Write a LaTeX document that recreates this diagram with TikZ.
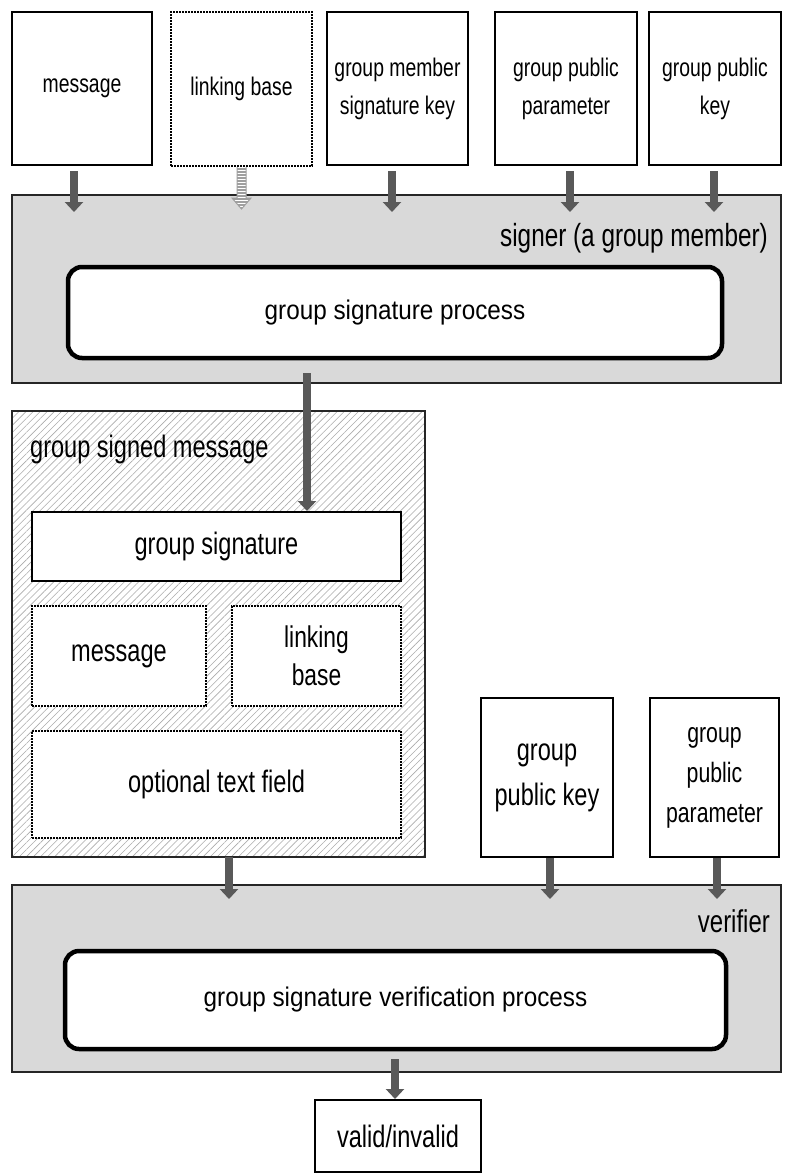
\documentclass[tikz,border=0pt]{standalone}
\usepackage{fontspec}
\setmainfont{Liberation Sans}[FakeStretch=0.76]
\newfontfamily\procfont{Liberation Sans}[FakeStretch=0.9]
\usetikzlibrary{arrows.meta,patterns.meta,calc}
\definecolor{panelgray}{HTML}{D9D9D9}
\definecolor{arrowgray}{HTML}{595959}
\tikzset{
  box/.style={draw=black, line width=2pt, fill=white, inner sep=2pt, align=center},
  dotbox/.style={box, dash pattern=on 1.6pt off 1.4pt},
  small/.style={font=\fontsize{25.5}{38}\selectfont},
  big/.style={font=\fontsize{31}{42}\selectfont},
  procfnt/.style={font=\procfont\fontsize{27}{32}\selectfont},
  label/.style={big, inner sep=0pt},
  panel/.style={draw=black!85, line width=2pt, fill=panelgray},
  hatchpanel/.style={draw=black!85, line width=2pt, preaction={fill=white},
    pattern={Lines[angle=45,distance=5pt,line width=0.6pt]}, pattern color=gray!65},
  proc/.style={draw=black, line width=4.5pt, fill=white, rounded corners=14pt, align=center, procfnt},
  arr/.style={draw=arrowgray, line width=8pt, -{Triangle[width=18pt,length=10pt]}},
}
\begin{document}
\begin{tikzpicture}[x=1pt,y=-1pt]
\useasboundingbox (0,0) rectangle (793,1173);

% inputs of the signer
\node[box,small,minimum width=140,minimum height=153] (msg) at (82,88.5) {message};
\node[dotbox,small,minimum width=141,minimum height=154] (lb) at (241.5,89) {linking base};
\node[box,small,minimum width=141,minimum height=153] (gmsk) at (397.5,88.5) {group member\\signature key};
\node[box,small,minimum width=142,minimum height=153] (gpp) at (566,88.5) {group public\\parameter};
\node[box,small,minimum width=132,minimum height=153] (gpk) at (715,88.5) {group public\\key};

% signer
\node[panel, minimum width=769, minimum height=188] (signer) at (396.5,289) {};
\node[label, anchor=east, font=\fontsize{32}{38}\selectfont] (signerlbl) at (768,238) {signer (a group member)};
\node[proc, minimum width=654, minimum height=91] (sp) at (395,312.5) {group signature process};

% group signed message
\node[hatchpanel, minimum width=413, minimum height=446] (gsm) at (218.5,634) {};
\node[label, anchor=west] (gsmlbl) at (30,449) {group signed message};
\node[box, big, minimum width=369, minimum height=69] (gs) at (216.5,546.5) {group signature};
\node[dotbox, big, minimum width=174, minimum height=100] (msg2) at (119,656) {message};
\node[dotbox, big, minimum width=169, minimum height=100, font=\fontsize{30}{38}\selectfont] (lb2) at (316.5,656) {linking\\base};
\node[dotbox, big, minimum width=369, minimum height=107] (otf) at (216.5,784.5) {optional text field};

% inputs of the verifier
\node[box, big, minimum width=132, minimum height=159, font=\fontsize{31}{45}\selectfont] (gpk2) at (547,777.5) {group\\public key};
\node[box, big, minimum width=129, minimum height=159, font=\fontsize{28}{40}\selectfont] (gpp2) at (714.5,777.5) {group\\public\\parameter};

% verifier
\node[panel, minimum width=769, minimum height=187] (verifier) at (396.5,978.5) {};
\node[label, anchor=east, font=\fontsize{31.5}{38}\selectfont] (verlbl) at (770,921) {verifier};
\node[proc, minimum width=661, minimum height=98] (vp) at (395.5,1000) {group signature verification process};

% result
\node[box, big, minimum width=166, minimum height=72] (valid) at (398,1136) {valid/invalid};

% arrows into the signer
\coordinate (a1) at ([xshift=-8pt]msg.south);
\coordinate (a3) at ([xshift=-5.5pt]gmsk.south);
\coordinate (a4) at ([xshift=4pt]gpp.south);
\coordinate (a5) at ([xshift=-1pt]gpk.south);
\foreach \c in {a1,a3,a4,a5}
  \draw[arr, shorten <=5pt, shorten >=-18pt] (\c) -- (\c |- signer.north);

% optional linking base input: striped hollow arrow
\begin{scope}[shift={(lb.south)}]
  \path[fill=white] (-4.5,0) -- (-4.5,31) -- (-9.5,31) -- (0,42) -- (9.5,31) -- (4.5,31) -- (4.5,0) -- cycle;
  \begin{scope}
    \clip (-4.5,0) -- (-4.5,31) -- (-9.5,31) -- (0,42) -- (9.5,31) -- (4.5,31) -- (4.5,0) -- cycle;
    \foreach \y in {2,5,...,41}
      \draw[gray!75, line width=1.2pt] (-10,\y) -- (10,\y);
  \end{scope}
  \draw[gray!75, line width=1pt, line join=miter] (-4.5,0) -- (-4.5,31) -- (-9.5,31) -- (0,42) -- (9.5,31) -- (4.5,31) -- (4.5,0);
\end{scope}

% signer output into the group signed message
\coordinate (a6) at ([xshift=-89.5pt,yshift=11pt]signer.south);
\draw[arr] (a6) -- (a6 |- gs.north);

% arrows into the verifier
\coordinate (b1) at ([xshift=10.5pt]gsm.south);
\coordinate (b2) at ([xshift=3pt]gpk2.south);
\coordinate (b3) at ([xshift=2.5pt]gpp2.south);
\foreach \c in {b1,b2,b3}
  \draw[arr, shorten >=-15pt] (\c) -- (\c |- verifier.north);

% verifier output
\coordinate (b4) at ([xshift=-1.5pt,yshift=14pt]verifier.south);
\draw[arr] (b4) -- (b4 |- valid.north);
\end{tikzpicture}
\end{document}
